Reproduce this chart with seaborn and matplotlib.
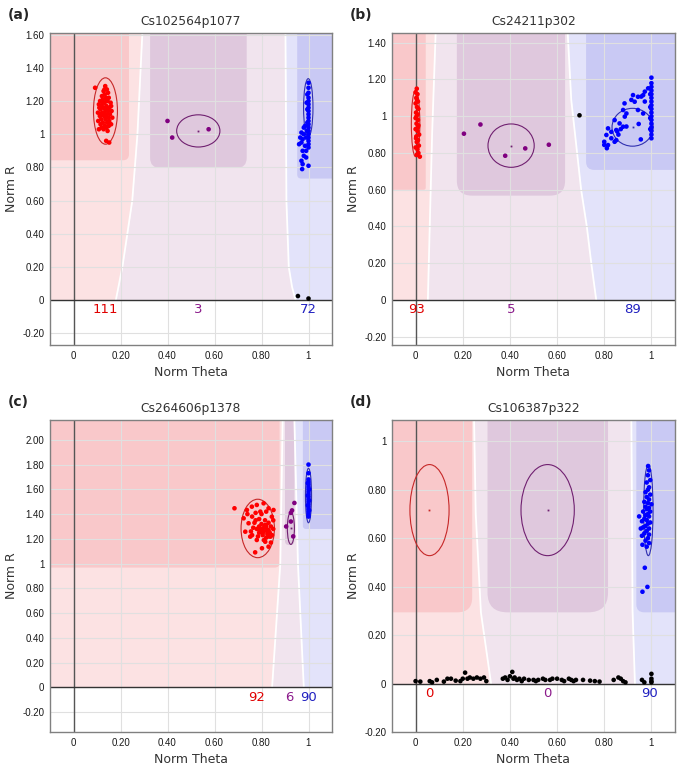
import numpy as np
import pandas as pd
import matplotlib
matplotlib.use('Agg')
import matplotlib.pyplot as plt
from matplotlib.patches import Ellipse, FancyBboxPatch
from matplotlib.ticker import FuncFormatter
import seaborn as sns

# ---------------- data: (Norm Theta, Norm R) per genotype call ----------------
a_red = [(0.092, 1.28), (0.139, 0.96), (0.152, 0.95),
         (0.135, 1.29), (0.142, 1.27), (0.128, 1.26), (0.147, 1.25), (0.133, 1.24), (0.121, 1.23),
         (0.15, 1.22), (0.138, 1.22), (0.125, 1.21), (0.113, 1.20), (0.145, 1.20), (0.158, 1.19),
         (0.132, 1.19), (0.108, 1.18), (0.12, 1.17), (0.14, 1.17), (0.152, 1.16), (0.127, 1.16),
         (0.115, 1.15), (0.135, 1.15), (0.147, 1.14), (0.162, 1.14), (0.104, 1.13), (0.122, 1.13),
         (0.14, 1.12), (0.155, 1.12), (0.112, 1.11), (0.13, 1.11), (0.148, 1.10), (0.165, 1.10),
         (0.118, 1.09), (0.136, 1.09), (0.152, 1.08), (0.105, 1.08), (0.125, 1.07), (0.143, 1.07),
         (0.16, 1.06), (0.115, 1.06), (0.133, 1.05), (0.15, 1.05), (0.12, 1.04), (0.14, 1.04),
         (0.108, 1.03), (0.128, 1.03), (0.145, 1.02), (0.13, 1.13), (0.125, 1.19), (0.143, 1.16),
         (0.118, 1.12), (0.137, 1.10), (0.16, 1.17), (0.11, 1.16), (0.132, 1.27), (0.14, 1.21)]
a_purple = [(0.40, 1.08), (0.42, 0.98), (0.575, 1.03)]
a_blue = [(1.0, 1.31), (1.0, 1.28), (1.0, 1.25), (1.0, 1.22), (1.0, 1.20), (1.0, 1.18), (1.0, 1.16),
          (1.0, 1.14), (1.0, 1.12), (1.0, 1.10), (1.0, 1.08), (1.0, 1.06), (1.0, 1.04), (1.0, 1.02),
          (1.0, 1.00), (1.0, 0.98), (1.0, 0.96), (1.0, 0.94), (1.0, 0.92), (0.995, 1.24), (0.995, 1.15),
          (0.995, 1.07), (0.993, 1.02), (0.99, 0.98), (0.992, 1.19), (0.985, 1.05), (0.98, 1.00),
          (0.975, 0.97), (0.97, 0.95), (0.985, 0.93), (0.96, 0.94), (0.965, 0.98), (0.99, 0.90),
          (0.975, 0.90), (0.98, 0.87), (0.99, 0.86), (0.97, 0.84), (0.973, 0.79), (0.975, 0.82),
          (1.0, 0.81), (0.98, 1.04), (0.97, 1.01)]
a_black = [(0.955, 0.025), (1.0, 0.01)]

b_red = [(0.005, 1.15), (0.0, 1.13), (0.008, 1.12), (0.003, 1.10), (0.01, 1.08), (0.0, 1.07),
         (0.006, 1.05), (0.012, 1.04), (0.002, 1.02), (0.008, 1.01), (0.0, 0.99), (0.01, 0.98),
         (0.004, 0.96), (0.012, 0.95), (0.0, 0.93), (0.008, 0.92), (0.015, 0.90), (0.003, 0.89),
         (0.01, 0.87), (0.005, 0.86), (0.014, 0.84), (0.0, 0.83), (0.008, 0.82), (0.012, 0.80),
         (0.005, 0.79), (0.018, 0.78), (0.006, 1.09), (0.004, 1.0), (0.01, 0.94), (0.002, 0.88)]
b_purple = [(0.205, 0.905), (0.275, 0.955), (0.38, 0.785), (0.465, 0.825), (0.565, 0.845)]
b_blue = [(1.0, 1.21), (1.0, 1.18), (1.0, 1.16), (1.0, 1.14), (1.0, 1.12), (1.0, 1.10), (1.0, 1.08),
          (1.0, 1.06), (1.0, 1.04), (1.0, 1.02), (1.0, 1.00), (1.0, 0.98), (1.0, 0.96), (1.0, 0.94),
          (1.0, 0.92), (1.0, 0.90), (1.0, 0.88), (0.995, 1.12), (0.995, 1.05), (0.995, 0.99),
          (0.995, 0.93), (0.922, 1.115), (0.943, 1.106), (0.929, 1.079), (0.965, 1.115), (0.972, 1.08),
          (0.886, 1.07), (0.88, 1.034), (0.894, 1.015), (0.943, 1.034), (0.965, 1.015), (0.844, 0.979),
          (0.865, 0.961), (0.88, 0.943), (0.851, 0.925), (0.83, 0.915), (0.816, 0.934), (0.809, 0.898),
          (0.83, 0.88), (0.851, 0.87), (0.80, 0.861), (0.816, 0.843), (0.844, 0.861), (0.955, 0.874),
          (0.80, 0.844), (0.811, 0.826), (0.855, 0.917), (0.887, 0.998), (0.946, 0.958), (0.957, 1.107),
          (0.972, 1.134), (0.986, 1.152), (0.894, 0.944), (0.915, 1.089), (0.87, 0.93), (0.86, 0.90)]
b_black = [(0.695, 1.005)]

c_red = [(0.685, 1.447), (0.773, 1.091), (0.724, 1.366), (0.738, 1.433), (0.759, 1.46), (0.78, 1.474),
         (0.809, 1.487), (0.83, 1.447), (0.851, 1.433), (0.844, 1.379), (0.745, 1.326), (0.731, 1.258),
         (0.752, 1.218), (0.78, 1.191), (0.816, 1.177), (0.83, 1.137), (0.802, 1.124), (0.838, 1.218),
         (0.79, 1.30), (0.80, 1.28), (0.81, 1.26), (0.82, 1.29), (0.83, 1.27), (0.84, 1.30), (0.80, 1.32),
         (0.815, 1.31), (0.825, 1.24), (0.835, 1.25), (0.79, 1.25), (0.805, 1.23), (0.82, 1.21),
         (0.845, 1.23), (0.85, 1.28), (0.78, 1.28), (0.77, 1.33), (0.76, 1.38), (0.775, 1.41),
         (0.79, 1.36), (0.80, 1.40), (0.815, 1.35), (0.83, 1.33), (0.765, 1.29), (0.755, 1.26),
         (0.785, 1.22), (0.81, 1.19), (0.84, 1.17), (0.795, 1.42), (0.82, 1.42), (0.74, 1.40),
         (0.76, 1.23), (0.85, 1.35), (0.81, 1.29), (0.825, 1.27), (0.795, 1.27), (0.82, 1.31),
         (0.83, 1.22), (0.805, 1.25), (0.775, 1.35)]
c_purple = [(0.905, 1.30), (0.925, 1.41), (0.93, 1.43), (0.925, 1.34), (0.935, 1.22), (0.94, 1.49)]
c_blue = [(1.0, 1.80), (1.0, 1.73), (1.0, 1.68), (1.0, 1.66), (1.0, 1.64), (1.0, 1.62), (1.0, 1.60),
          (1.0, 1.58), (1.0, 1.56), (1.0, 1.54), (1.0, 1.52), (1.0, 1.50), (1.0, 1.48), (1.0, 1.46),
          (1.0, 1.44), (1.0, 1.42), (1.0, 1.40), (1.0, 1.38), (0.997, 1.65), (0.997, 1.55),
          (0.997, 1.47), (1.003, 1.60), (1.003, 1.51), (1.003, 1.43)]
c_black = []

d_red = []
d_purple = []
d_blue = [(0.986, 0.898), (0.99, 0.88), (0.985, 0.86), (0.995, 0.84), (0.98, 0.83), (0.99, 0.81),
          (0.985, 0.80), (0.975, 0.79), (0.995, 0.78), (0.98, 0.77), (0.99, 0.76), (0.97, 0.75),
          (0.985, 0.745), (1.0, 0.74), (0.975, 0.73), (0.99, 0.725), (0.98, 0.72), (0.965, 0.71),
          (0.995, 0.71), (0.985, 0.70), (0.975, 0.695), (0.948, 0.69), (0.99, 0.69), (0.97, 0.68),
          (0.98, 0.675), (0.96, 0.67), (0.995, 0.665), (0.985, 0.66), (0.975, 0.65), (0.965, 0.645),
          (0.99, 0.64), (0.955, 0.64), (0.98, 0.63), (0.97, 0.62), (0.99, 0.615), (0.96, 0.61),
          (0.985, 0.60), (0.975, 0.59), (0.962, 0.573), (0.99, 0.58), (0.98, 0.565), (0.972, 0.478),
          (0.983, 0.399), (0.962, 0.379)]
d_black = [(0.0, 0.01), (0.02, 0.008), (0.06, 0.01), (0.07, 0.005), (0.09, 0.015), (0.12, 0.008),
           (0.135, 0.02), (0.15, 0.02), (0.17, 0.012), (0.19, 0.01), (0.20, 0.02), (0.21, 0.045),
           (0.22, 0.02), (0.23, 0.025), (0.245, 0.02), (0.26, 0.025), (0.275, 0.02), (0.29, 0.025),
           (0.30, 0.01), (0.37, 0.02), (0.38, 0.025), (0.39, 0.015), (0.40, 0.03), (0.41, 0.048),
           (0.415, 0.02), (0.42, 0.025), (0.43, 0.015), (0.44, 0.02), (0.45, 0.01), (0.46, 0.02),
           (0.48, 0.015), (0.50, 0.015), (0.51, 0.01), (0.52, 0.015), (0.54, 0.02), (0.55, 0.015),
           (0.57, 0.015), (0.58, 0.02), (0.60, 0.02), (0.62, 0.015), (0.63, 0.01), (0.65, 0.02),
           (0.66, 0.015), (0.67, 0.01), (0.68, 0.015), (0.71, 0.015), (0.74, 0.012), (0.76, 0.01),
           (0.78, 0.008), (0.84, 0.015), (0.86, 0.025), (0.87, 0.02), (0.88, 0.01), (0.89, 0.005),
           (0.96, 0.015), (0.97, 0.005), (1.0, 0.04), (1.0, 0.02), (1.0, 0.01), (1.0, 0.005)]

# cluster ellipses: (theta centre, R centre, theta half-width, R half-height)
a_ellipses = [(0.136, 1.14, 0.051, 0.20), (0.531, 1.02, 0.092, 0.097), (0.999, 1.16, 0.02, 0.175)]
b_ellipses = [(0.0, 0.96, 0.018, 0.18), (0.405, 0.84, 0.098, 0.118), (0.92, 0.94, 0.087, 0.103)]
c_ellipses = [(0.784, 1.284, 0.071, 0.236), (0.925, 1.285, 0.015, 0.13), (1.0, 1.55, 0.013, 0.22)]
d_ellipses = [(0.059, 0.716, 0.083, 0.188), (0.56, 0.716, 0.113, 0.188), (0.987, 0.716, 0.02, 0.188)]

# call counts and where they are printed
a_counts, a_count_pos = ['111', '3', '72'], [0.135, 0.53, 1.0]
b_counts, b_count_pos = ['93', '5', '89'], [0.005, 0.405, 0.92]
c_counts, c_count_pos = ['92', '6', '90'], [0.78, 0.92, 1.0]
d_counts, d_count_pos = ['0', '0', '90'], [0.06, 0.56, 0.99]

# region boundaries (theta at given R) and dark cluster boxes (theta0, theta1, R0, corner px)
a_bound1, a_bound2 = ([0.18, 0.208, 0.25, 0.272, 0.293], [0, 0.2, 0.6, 1.0, 1.61]), \
                     ([0.945, 0.93, 0.916, 0.906, 0.902], [0, 0.08, 0.2, 0.6, 1.61])
b_bound1, b_bound2 = ([0.052, 0.06, 0.07, 0.085], [0, 0.4, 0.9, 1.453]), \
                     ([0.766, 0.745, 0.726, 0.702, 0.66, 0.645], [0, 0.2, 0.4, 0.6, 1.09, 1.453])
c_bound1, c_bound2 = ([0.845, 0.88, 0.89], [0, 1.0, 2.16]), ([0.98, 0.955, 0.94], [0, 1.0, 2.16])
d_bound1, d_bound2 = ([0.32, 0.277, 0.255, 0.248], [0, 0.294, 0.7, 1.088]), \
                     ([0.93, 0.92, 0.915], [0, 0.3, 1.088])
a_boxes = [(-0.2, 0.236, 0.843, 6), (0.326, 0.737, 0.797, 10), (0.952, 1.2, 0.733, 4)]
b_boxes = [(-0.2, 0.043, 0.60, 2), (0.175, 0.634, 0.568, 15), (0.723, 1.2, 0.708, 8)]
c_boxes = [(-0.2, 0.877, 0.968, 5), (0.90, 0.94, 1.15, 4), (0.976, 1.2, 1.28, 3)]
d_boxes = [(-0.2, 0.24, 0.294, 15), (0.305, 0.816, 0.294, 20), (0.936, 1.2, 0.294, 8)]

titles = ['Cs102564p1077', 'Cs24211p302', 'Cs264606p1378', 'Cs106387p322']
letters = ['(a)', '(b)', '(c)', '(d)']
ylims = [(-0.27, 1.61), (-0.245, 1.453), (-0.36, 2.16), (-0.18, 1.088)]
yticks_max = [1.6, 1.4, 2.0, 1.0]

# ---------------- style ----------------
sns.set_style('white')
plt.rcParams['font.family'] = ['Liberation Sans', 'DejaVu Sans']
TXT = 'DejaVu Sans'

call_colors = {'AA': '#ff0000', 'AB': '#800080', 'BB': '#0000ff', 'NC': '#000000'}
ell_colors = ['#c62828', '#702070', '#3030b0']
lab_colors = ['#e00000', '#8b1a8b', '#2020c0']
light = ['#fce2e3', '#f1e4ee', '#e3e3fa']
dark = ['#f9c8ca', '#dfc8dd', '#c9c9f4']

W, H = 681, 770
fig = plt.figure(figsize=(W / 100, H / 100), dpi=100)
positions = [(50, 33, 332, 345), (392, 33, 675, 345), (50, 420, 332, 732), (392, 420, 675, 732)]

panels = [
    (a_red, a_purple, a_blue, a_black, a_ellipses, a_counts, a_count_pos, a_bound1, a_bound2, a_boxes),
    (b_red, b_purple, b_blue, b_black, b_ellipses, b_counts, b_count_pos, b_bound1, b_bound2, b_boxes),
    (c_red, c_purple, c_blue, c_black, c_ellipses, c_counts, c_count_pos, c_bound1, c_bound2, c_boxes),
    (d_red, d_purple, d_blue, d_black, d_ellipses, d_counts, d_count_pos, d_bound1, d_bound2, d_boxes),
]


def fmt(v, pos):
    if abs(v) < 1e-9:
        return '0'
    if abs(v - 1) < 1e-9:
        return '1'
    return '%.2f' % v


xlim = (-0.1, 1.1)
for i, (red, purple, blue, black, ells, counts, cpos, bnd1, bnd2, boxes) in enumerate(panels):
    l, t, r, b = positions[i]
    ax = fig.add_axes([l / W, 1 - b / H, (r - l) / W, (b - t) / H])
    ylim = ylims[i]
    ppx = (xlim[1] - xlim[0]) / (r - l)
    ppy = (ylim[1] - ylim[0]) / (b - t)

    # background regions
    yy = np.linspace(0, ylim[1], 300)
    b1 = np.interp(yy, bnd1[1], bnd1[0])
    b2 = np.interp(yy, bnd2[1], bnd2[0])
    ax.fill_betweenx(yy, xlim[0], b1, color=light[0], lw=0, zorder=0.1)
    ax.fill_betweenx(yy, b1, b2, color=light[1], lw=0, zorder=0.1)
    ax.fill_betweenx(yy, b2, xlim[1], color=light[2], lw=0, zorder=0.1)
    for k, (x0, x1, y0, rad) in enumerate(boxes):
        ax.add_patch(FancyBboxPatch((x0, y0), x1 - x0, ylim[1] + 0.5 - y0,
                                    boxstyle='round,pad=0,rounding_size=%f' % (rad * ppx),
                                    mutation_aspect=ppy / ppx, fc=dark[k], ec='none', zorder=0.2))
    ax.plot(bnd1[0], bnd1[1], color='white', lw=1.3, zorder=0.3)
    ax.plot(bnd2[0], bnd2[1], color='white', lw=1.3, zorder=0.3)

    ax.axvline(0, color='#555555', lw=1, zorder=0.6)
    ax.axhline(0, color='#333333', lw=1, zorder=0.6)

    # ellipses and centroids
    for k, (cx, cy, hw, hh) in enumerate(ells):
        ax.add_patch(Ellipse((cx, cy), 2 * hw, 2 * hh, fill=False, ec=ell_colors[k], lw=0.8, zorder=2))
        ax.plot(cx, cy, marker='s', ms=1.3, color=ell_colors[k], mew=0, zorder=2)

    # points
    frames = []
    for call, pts in zip(['AA', 'AB', 'BB', 'NC'], [red, purple, blue, black]):
        if pts:
            arr = np.array(pts)
            frames.append(pd.DataFrame({'theta': arr[:, 0], 'R': arr[:, 1], 'call': call}))
    df = pd.concat(frames, ignore_index=True)
    sns.scatterplot(data=df, x='theta', y='R', hue='call', palette=call_colors, s=11,
                    linewidth=0, legend=False, ax=ax, zorder=3)

    for k, (txt, xp) in enumerate(zip(counts, cpos)):
        ax.annotate(txt, (xp, 0), xytext=(0, -7), textcoords='offset points', ha='center',
                    va='center', color=lab_colors[k], fontsize=9.5, family=TXT)

    ax.set_xlim(*xlim)
    ax.set_ylim(*ylim)
    ax.set_xticks(np.arange(0, 1.01, 0.2))
    ax.set_yticks(np.arange(-0.2, yticks_max[i] + 0.01, 0.2))
    ax.xaxis.set_major_formatter(FuncFormatter(fmt))
    ax.yaxis.set_major_formatter(FuncFormatter(fmt))
    ax.tick_params(length=0, labelsize=7, pad=4, labelcolor='#1a1a1a')
    ax.set_axisbelow(True)
    ax.grid(True, color='#e0e0e0', lw=0.8)
    for sp in ax.spines.values():
        sp.set_color('#808080')
        sp.set_linewidth(1)
    ax.set_xlabel('Norm Theta', fontsize=9, labelpad=4, color='#333333', family=TXT)
    ax.set_ylabel('Norm R', fontsize=9, labelpad=3, color='#333333', family=TXT)
    ax.set_title(titles[i], fontsize=8.8, pad=6, color='#333333', family=TXT)
    fig.text((l - 42) / W, 1 - (t - 18) / H, letters[i], fontsize=10, fontweight='bold',
             ha='left', va='center', family=TXT)

fig.savefig('out.png', dpi=100)
